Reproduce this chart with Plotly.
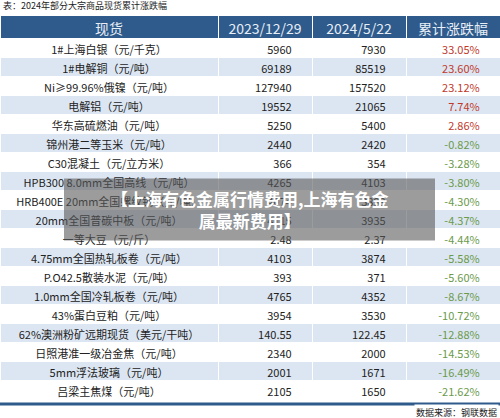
import plotly.graph_objects as go

items = ["1#上海白银（元/千克）", "1#电解铜（元/吨）", "Ni≥99.96%俄镍（元/吨）", "电解铝（元/吨）",
         "华东高硫燃油（元/吨）", "锦州港二等玉米（元/吨）", "C30混凝土（元/立方米）",
         "HPB300 8.0mm全国高线（元/吨）", "HRB400E 20mm全国螺纹钢（元/吨）", "20mm全国普碳中板（元/吨）",
         "一等大豆（元/斤）", "4.75mm全国热轧板卷（元/吨）", "P.O42.5散装水泥（元/吨）",
         "1.0mm全国冷轧板卷（元/吨）", "43%蛋白豆粕（元/吨）", "62%澳洲粉矿远期现货（美元/干吨）",
         "日照港准一级冶金焦（元/吨）", "5mm浮法玻璃（元/吨）", "吕梁主焦煤（元/吨）"]
v2023 = ["5960", "69189", "127940", "19552", "5250", "2440", "366", "4265", "4074", "4115",
         "2.48", "4103", "393", "4765", "3954", "140.55", "2340", "2001", "2105"]
v2024 = ["7930", "85519", "157520", "21065", "5400", "2420", "354", "4103", "3899", "3935",
         "2.37", "3874", "371", "4352", "3530", "122.45", "2000", "1671", "1650"]
change = [33.05, 23.60, 23.12, 7.74, 2.86, -0.82, -3.28, -3.80, -4.30, -4.37,
          -4.44, -5.58, -5.60, -8.67, -10.72, -12.88, -14.53, -16.49, -21.62]
headers = ["现货", "2023/12/29", "2024/5/22", "累计涨跌幅"]

pad = "\u00a0" * 5
n = len(items)
row_fill = ["#FFFFFF" if i % 2 == 0 else "#DCE6F2" for i in range(n)]
chg_text = [f"{c:.2f}%" + pad for c in change]
chg_color = ["#C0392B" if c > 0 else "#6B9A4B" for c in change]

fig = go.Figure(go.Table(
    domain=dict(x=[0, 1], y=[0, 1]),
    columnwidth=[218, 94, 94, 94],
    header=dict(values=headers, fill_color="#2E5B8C", height=23,
                font=dict(color="#E8EEF6", size=14, family="Noto Sans CJK SC"),
                align="center", line=dict(color="#FFFFFF", width=1)),
    cells=dict(values=[items, [v + pad for v in v2023], [v + pad for v in v2024], chg_text],
               fill_color=[row_fill] * 4, height=19.0,
               font=dict(color=["#222222", "#222222", "#222222", chg_color], size=11,
                         family="Noto Sans CJK SC"),
               align=["center", "right", "right", "right"],
               line=dict(color="#FFFFFF", width=1)),
))

fig.add_annotation(text="表：2024年部分大宗商品现货累计涨跌幅", x=0.002, y=1, xref="paper", yref="paper",
                   xanchor="left", yanchor="bottom", showarrow=False, yshift=1,
                   font=dict(size=9, color="#222222", family="Noto Sans CJK SC"))
fig.add_annotation(text="数据来源：钢联数据", x=0.998, y=0, xref="paper", yref="paper",
                   xanchor="right", yanchor="top", showarrow=False, bgcolor="#FFFFFF",
                   font=dict(size=9, color="#222222", family="Noto Sans CJK SC"))
fig.add_shape(type="line", xref="paper", yref="paper", x0=0, x1=1, y0=0, y1=0,
              line=dict(color="#2E5B8C", width=3))
fig.add_shape(type="rect", xref="paper", yref="paper", x0=0.128, x1=0.870,
              y0=0.42, y1=0.58, fillcolor="rgba(90,90,90,0.6)", line_width=0)
fig.add_annotation(text="<b>【上海有色金属行情费用,上海有色金<br>属最新费用】</b>", x=0.5, y=0.50,
                   xref="paper", yref="paper", showarrow=False,
                   font=dict(size=17, color="#FFFFFF", family="Noto Sans CJK SC"))

fig.update_layout(width=500, height=418, margin=dict(l=0, r=0, t=15, b=14, autoexpand=False),
                  paper_bgcolor="#FFFFFF")
fig.write_html("out.html", config={"displayModeBar": False},
               post_script="document.body.style.margin='0';document.body.style.overflow='hidden';")
